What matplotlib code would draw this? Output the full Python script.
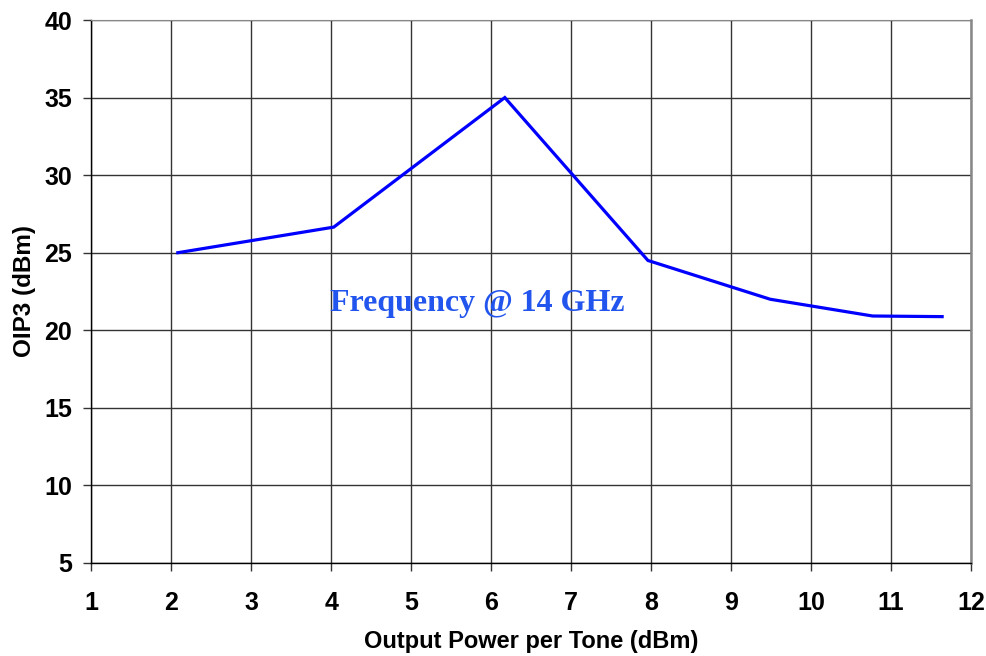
import matplotlib
matplotlib.use("Agg")
import matplotlib.pyplot as plt

# data
pout = [2.08, 4.03, 6.17, 7.96, 9.49, 10.77, 11.64]
oip3 = [25.0, 26.65, 35.0, 24.5, 22.0, 20.92, 20.88]

xticks = list(range(1, 13))
yticks = list(range(5, 45, 5))

plt.rcParams['font.family'] = ['Liberation Sans', 'DejaVu Sans']

fig = plt.figure(figsize=(9.87, 6.56), dpi=100)
ax = fig.add_axes([0.0927, 0.1418, 0.891, 0.8277])

ax.plot(pout, oip3, color='#0000ff', lw=2.3, solid_joinstyle='miter')

ax.set_xlim(1, 12)
ax.set_ylim(5, 40)
ax.set_xticks(xticks)
ax.set_yticks(yticks)
ax.grid(True, color='#333333', lw=1.0)
ax.set_axisbelow(True)

for s in ['top', 'right']:
    ax.spines[s].set_color('#888888')
ax.spines['right'].set_linewidth(1.8)
for s in ['left', 'bottom']:
    ax.spines[s].set_color('black')
    ax.spines[s].set_linewidth(1.0)

ax.tick_params(direction='out', length=6, width=1, color='#333333', labelsize=18)
ax.tick_params(axis='x', pad=14)
ax.tick_params(axis='y', pad=8)
for lab in ax.get_xticklabels() + ax.get_yticklabels():
    lab.set_fontweight('bold')

ax.set_xlabel('Output Power per Tone (dBm)', fontsize=17, fontweight='bold', labelpad=11)
ax.set_ylabel('OIP3 (dBm)', fontsize=17.5, fontweight='bold', labelpad=6)

ax.text(5.83, 21.75, 'Frequency @ 14 GHz', color='#2255ee', fontsize=23, fontweight='bold',
        family=['Liberation Serif', 'DejaVu Serif'], ha='center', va='center')

fig.savefig('out.png', dpi=100)
